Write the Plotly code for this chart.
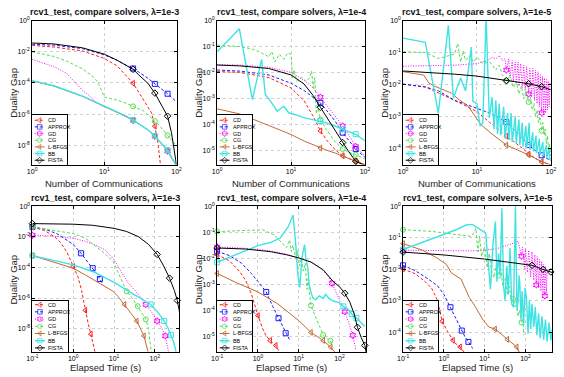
import plotly.graph_objects as go

FIG_W, FIG_H = 564, 377

# ---------------- text ----------------
SOLVERS = ["CD", "APPROX", "GD", "CG", "L-BFGS", "BB", "FISTA"]
PANEL_TITLES = ["rcv1_test, compare solvers, λ=1e-3",
                "rcv1_test, compare solvers, λ=1e-4",
                "rcv1_test, compare solvers, λ=1e-5"]
X_LABEL_COMM = "Number of Communications"
X_LABEL_TIME = "Elapsed Time (s)"
Y_LABEL = "Duality Gap"

# ---------------- tick labels ----------------
COMM_TICKS = [1, 10, 100]
COMM_TICKTEXT = ["10<sup>0</sup>", "10<sup>1</sup>", "10<sup>2</sup>"]
TIME_TICKS = [0.1, 1, 10, 100]
TIME_TICKTEXT = ["10<sup>-1</sup>", "10<sup>0</sup>", "10<sup>1</sup>", "10<sup>2</sup>"]
GAP_TICKS_1E3 = [1, 1e-2, 1e-4, 1e-6, 1e-8]
GAP_TICKTEXT_1E3 = ["10<sup>0</sup>", "10<sup>-2</sup>", "10<sup>-4</sup>", "10<sup>-6</sup>", "10<sup>-8</sup>"]
GAP_TICKS_1E4 = [1, 1e-1, 1e-2, 1e-3, 1e-4, 1e-5]
GAP_TICKTEXT_1E4 = ["10<sup>0</sup>", "10<sup>-1</sup>", "10<sup>-2</sup>", "10<sup>-3</sup>", "10<sup>-4</sup>", "10<sup>-5</sup>"]
GAP_TICKS_1E5 = [1, 1e-1, 1e-2, 1e-3, 1e-4]
GAP_TICKTEXT_1E5 = ["10<sup>0</sup>", "10<sup>-1</sup>", "10<sup>-2</sup>", "10<sup>-3</sup>", "10<sup>-4</sup>"]

# communications at which markers are drawn (top row)
MARK_COMM = [25, 50, 75]

# ================= λ=1e-3, duality gap vs communications =================
c3_cd_x = [1, 2, 5, 10, 15, 20, 25, 30, 35, 40, 45, 50, 55, 60]
c3_cd_y = [2.57e-2, 2.0e-2, 1.12e-2, 3.72e-3, 1.26e-3, 3.16e-4, 9.55e-5, 2.51e-5, 8.51e-6, 3.16e-6, 1.2e-6, 1.7e-7, 1.51e-8, 5.01e-10]
c3_approx_x = [1, 2, 5, 10, 15, 20, 25, 30, 40, 50, 60, 75, 100]
c3_approx_y = [3.02e-2, 2.63e-2, 1.58e-2, 6.31e-3, 2.82e-3, 1.41e-3, 8.51e-4, 5.01e-4, 2.0e-4, 8.71e-5, 4.47e-5, 2.04e-5, 6.03e-6]
c3_gd_x = [1, 2, 3, 4, 5, 6, 7, 8, 9, 10, 15, 20, 25, 30, 40, 50, 60, 75, 85, 100]
c3_gd_y = [3.24e-3, 1.1e-3, 4.17e-4, 9.55e-5, 3.31e-5, 1.74e-5, 8.51e-6, 5.01e-6, 3.55e-6, 3.02e-6, 1.35e-6, 6.76e-7, 3.98e-7, 2.4e-7, 9.55e-8, 3.8e-8, 1.51e-8, 4.27e-9, 1.51e-9, 5.01e-10]
c3_cg_x = [1, 2, 3, 5, 7, 8, 9, 10, 12, 15, 20, 25, 35, 50, 60, 75, 100]
c3_cg_y = [1.0e-2, 5.01e-3, 2.51e-3, 7.94e-4, 2.51e-4, 1.26e-4, 3.98e-5, 1.26e-5, 1.0e-5, 7.94e-6, 5.01e-6, 3.16e-6, 1.58e-6, 3.55e-7, 1.58e-7, 4.37e-8, 9.33e-9]
c3_lbfgs_x = [1, 2, 5, 10, 15, 20, 25, 30, 40, 50, 60, 75, 85, 100]
c3_lbfgs_y = [1.35e-4, 6.31e-5, 1.38e-5, 3.16e-6, 1.41e-6, 7.08e-7, 4.17e-7, 2.51e-7, 1.0e-7, 3.98e-8, 1.58e-8, 4.47e-9, 1.58e-9, 5.01e-10]
c3_bb_x = [1, 2, 5, 10, 15, 20, 25, 30, 40, 50, 60, 75, 85, 100]
c3_bb_y = [1.41e-4, 6.61e-5, 1.45e-5, 3.31e-6, 1.48e-6, 7.41e-7, 4.17e-7, 2.51e-7, 1.0e-7, 3.98e-8, 1.58e-8, 4.9e-9, 1.78e-9, 5.01e-10]
c3_fista_x = [1, 2, 5, 10, 15, 20, 25, 30, 40, 50, 60, 75, 85, 95, 100]
c3_fista_y = [3.63e-2, 3.16e-2, 1.78e-2, 6.92e-3, 2.88e-3, 1.41e-3, 7.41e-4, 3.24e-4, 9.55e-5, 2.24e-5, 5.13e-6, 7.41e-7, 6.46e-8, 3.47e-9, 5.01e-10]

# ================= λ=1e-4, duality gap vs communications =================
c4_cd_x = [1, 2, 5, 10, 15, 20, 25, 30, 40, 50, 60, 75, 100]
c4_cd_y = [1.07e-2, 1.0e-2, 6.31e-3, 2.51e-3, 7.94e-4, 2.0e-4, 5.5e-5, 2.51e-5, 1.0e-5, 6.03e-6, 4.79e-6, 3.72e-6, 2.75e-6]
c4_approx_x = [1, 2, 5, 10, 15, 20, 25, 30, 40, 50, 60, 75, 100]
c4_approx_y = [1.23e-2, 1.12e-2, 7.94e-3, 3.8e-3, 2.0e-3, 1.12e-3, 6.61e-4, 3.55e-4, 1.26e-4, 4.68e-5, 2.51e-5, 1.1e-5, 5.25e-6]
c4_gd_x = [1, 2, 5, 10, 15, 20, 25, 30, 40, 50, 60, 75, 100]
c4_gd_y = [2.0e-2, 1.91e-2, 1.58e-2, 1.0e-2, 5.01e-3, 2.51e-3, 1.1e-3, 5.62e-4, 2.0e-4, 8.51e-5, 3.98e-5, 1.38e-5, 5.75e-6]
c4_cg_x = [1, 2, 3, 4, 5, 5.5, 6, 7, 8, 9, 10, 10.5, 11, 12, 14, 16, 18, 19, 20, 21, 22, 23, 25, 30, 40, 50, 60, 75, 100]
c4_cg_y = [1.12e-1, 1.0e-1, 7.94e-2, 5.62e-2, 3.98e-2, 6.31e-2, 2.51e-2, 5.01e-2, 3.16e-2, 5.62e-2,
           5.01e-2, 6.31e-3, 1.26e-2, 4.47e-3, 6.31e-3, 4.47e-3, 6.31e-3, 1.12e-2, 2.51e-3, 6.31e-3,
           2.51e-4, 5.01e-4, 1.51e-4, 6.31e-5, 2.0e-5, 1.1e-5, 8.32e-6, 6.61e-6, 4.57e-6]
c4_lbfgs_x = [1, 2, 5, 10, 15, 20, 25, 30, 40, 50, 60, 75, 100]
c4_lbfgs_y = [3.89e-4, 2.51e-4, 8.91e-5, 3.98e-5, 2.24e-5, 1.58e-5, 1.2e-5, 1.0e-5, 7.59e-6, 6.03e-6, 5.01e-6, 3.72e-6, 2.75e-6]
c4_bb_x = [1, 2, 3, 4, 4.5, 5.3, 6.5, 8, 9.3, 10, 12, 15, 20, 25, 30, 40, 50, 60, 75, 100]
c4_bb_y = [6.17e-2, 4.79e-1, 8.91e-4, 3.16e-2, 1.38e-3, 7.59e-4, 3.16e-4, 4.9e-4, 2.75e-4, 2.63e-4,
           2.24e-4, 1.78e-4, 1.51e-4, 1.32e-4, 1.12e-4, 8.32e-5, 6.61e-5, 5.37e-5, 4.07e-5, 2.29e-5]
c4_fista_x = [1, 2, 5, 10, 15, 20, 25, 30, 40, 50, 60, 75, 100]
c4_fista_y = [1.91e-2, 1.78e-2, 1.41e-2, 7.94e-3, 3.55e-3, 1.26e-3, 4.47e-4, 2.0e-4, 5.01e-5, 1.95e-5, 8.91e-6, 3.72e-6, 2.51e-6]

# ================= λ=1e-5, duality gap vs communications =================
c5_cd_x = [1, 2, 5, 10, 15, 20, 25, 30, 40, 50, 60, 75, 100]
c5_cd_y = [1.02e-2, 8.32e-3, 3.16e-3, 1.41e-3, 6.31e-4, 3.55e-4, 2.4e-4, 1.78e-4, 1.05e-4, 6.61e-5, 5.01e-5, 3.8e-5, 3.02e-5]
c5_approx_x = [1, 2, 3, 5, 7, 10, 15, 20, 25, 30, 40, 50, 60, 75, 100]
c5_approx_y = [1.02e-2, 8.32e-3, 6.31e-3, 3.16e-3, 2.4e-3, 1.78e-3, 1.26e-3, 8.91e-4, 6.61e-4, 4.47e-4, 2.24e-4, 1.26e-4, 8.91e-5, 6.03e-5, 4.07e-5]
c5_gd_x = [1, 5, 10, 14, 16, 18, 20, 22, 24, 25, 27, 28, 30, 31, 33, 34, 36, 37, 39, 41,
           43, 45, 47, 50, 52, 55, 57, 60, 62, 65, 67, 70, 72, 75, 77, 80, 82, 85, 87, 90,
           92, 95, 97, 100]
c5_gd_y = [3.72e-2, 3.98e-2, 4.47e-2, 5.62e-2, 7.08e-2, 6.31e-2, 7.94e-2, 5.62e-2, 6.31e-2, 2.82e-2,
           6.31e-2, 1.58e-2, 5.62e-2, 1.26e-2, 5.01e-2, 1.0e-2, 5.01e-2, 8.91e-3, 4.47e-2, 7.94e-3,
           3.98e-2, 6.31e-3, 3.55e-2, 5.01e-3, 3.16e-2, 3.98e-3, 3.16e-2, 3.16e-3, 2.82e-2, 2.51e-3,
           2.51e-2, 2.0e-3, 2.0e-2, 1.29e-3, 1.78e-2, 1.26e-3, 1.58e-2, 1.26e-3, 1.41e-2, 1.58e-3,
           1.26e-2, 2.0e-3, 1.12e-2, 1.0e-2]
c5_cg_x = [1, 2, 3, 4, 5, 5.5, 6, 6.5, 7, 8, 9, 10, 12, 15, 18, 20, 22, 25, 28, 31,
           34, 37, 40, 43, 46, 50, 53, 56, 59, 62, 65, 68, 71, 75, 78, 81, 84, 87, 90, 93,
           96, 100]
c5_cg_y = [1.05e-1, 1.0e-1, 6.46e-2, 7.94e-2, 8.91e-2, 1.91e-1, 5.01e-2, 1.12e-1, 5.62e-2, 7.94e-2,
           5.01e-2, 7.08e-2, 4.47e-2, 5.01e-2, 2.82e-2, 3.98e-2, 2.0e-2, 1.26e-2, 2.0e-2, 7.94e-3,
           1.26e-2, 5.01e-3, 8.91e-3, 3.55e-3, 6.31e-3, 2.82e-3, 3.98e-3, 1.58e-3, 2.51e-3, 1.0e-3,
           1.58e-3, 6.31e-4, 1.0e-3, 3.55e-4, 6.31e-4, 2.51e-4, 3.98e-4, 1.41e-4, 2.51e-4, 8.91e-5,
           1.41e-4, 5.62e-5]
c5_lbfgs_x = [1, 1.9, 2.24, 2.7, 4.5, 5.8, 7.6, 9.7, 11.3, 15, 20, 25, 30, 40, 50, 60, 75, 100]
c5_lbfgs_y = [2.51e-2, 1.95e-2, 1.1e-2, 8.71e-3, 5.37e-3, 3.24e-3, 2.09e-3, 8.91e-4, 5.5e-4, 3.16e-4,
              1.91e-4, 1.26e-4, 1.05e-4, 7.94e-5, 6.17e-5, 5.01e-5, 3.8e-5, 3.02e-5]
c5_bb_x = [1, 2, 3, 4.1, 4.8, 6, 7, 8.4, 8.8, 10, 11, 12, 13.3, 14.7, 16, 17, 18, 19, 20, 21,
           23, 24, 26, 27, 29, 30, 33, 34, 37, 38, 41, 42, 46, 47, 51, 52, 57, 58, 63, 64,
           70, 71, 78, 79, 87, 88, 95, 96, 100]
c5_bb_y = [2.82e-1, 2.09e-1, 1.26e-3, 7.08e-1, 3.72e-3, 1.58e-2, 6.31e-3, 1.48e-1, 2.95e-3, 2.51e-3,
           5.01e-4, 6.31e-4, 1.26, 8.91e-4, 3.98e-3, 3.98e-4, 3.16e-3, 2.82e-4, 2.51e-3, 2.51e-4,
           2.0e-3, 2.0e-4, 1.26e-3, 1.78e-4, 1.26e-3, 1.58e-4, 1.0e-3, 1.41e-4, 7.94e-4, 1.26e-4,
           6.31e-4, 1.12e-4, 5.01e-4, 1.0e-4, 6.31e-4, 8.91e-5, 3.16e-4, 7.94e-5, 2.51e-4, 7.08e-5,
           2.0e-4, 6.31e-5, 1.58e-4, 5.62e-5, 1.26e-4, 5.01e-5, 1.0e-4, 4.47e-5, 5.01e-5]
c5_fista_x = [1, 2, 5, 10, 25, 50, 75, 100]
c5_fista_y = [2.63e-2, 2.4e-2, 2.09e-2, 1.82e-2, 1.32e-2, 1.05e-2, 8.51e-3, 6.76e-3]

# ================= λ=1e-3, duality gap vs elapsed time (s) =================
t3_cd_x = [0.1, 0.2, 0.35, 0.5, 0.7, 1.0, 1.3, 1.6, 1.97, 2.3, 2.7, 3.4]
t3_cd_y = [4.37e-2, 2.51e-2, 1.0e-2, 3.98e-3, 1.0e-3, 1.15e-4, 2.51e-5, 3.16e-6, 1.58e-7, 2.51e-8, 4.37e-9, 3.16e-10]
t3_cd_marks = [0.1, 1.0, 1.97, 2.7]
t3_approx_x = [0.1, 0.2, 0.4, 0.7, 1.0, 1.56, 2.2, 3.0, 3.7, 4.5, 5.4]
t3_approx_y = [4.37e-2, 3.16e-2, 1.58e-2, 6.31e-3, 3.16e-3, 8.32e-4, 2.51e-4, 8.91e-5, 3.98e-5, 1.74e-5, 7.41e-6]
t3_approx_marks = [0.1, 1.56, 3.0, 4.5]
t3_gd_x = [0.1, 0.3, 1, 2, 3.5, 6, 10, 15, 22, 30, 45, 60, 85, 114, 150, 180, 215]
t3_gd_y = [1.26e-2, 1.12e-2, 7.94e-3, 5.01e-3, 2.82e-3, 1.41e-3, 3.16e-4, 5.01e-5, 1.0e-5, 3.98e-6, 1.12e-6, 3.8e-7, 1.12e-7, 3.16e-8, 1.0e-8, 3.39e-9, 3.16e-10]
t3_gd_marks = [0.1, 60, 114, 180]
t3_cg_x = [0.1, 0.3, 1, 2, 3.7, 6, 9.5, 14, 20.4, 28, 38, 48, 60, 70, 82]
t3_cg_y = [4.37e-2, 2.82e-2, 1.62e-2, 7.94e-3, 2.24e-3, 7.94e-4, 2.4e-4, 2.51e-5, 2.75e-6, 1.0e-6, 2.95e-7, 1.12e-7, 4.07e-8, 1.0e-8, 2.51e-10]
t3_cg_marks = [0.1, 20.4, 38, 60]
t3_lbfgs_x = [0.1, 0.3, 1, 2, 3.7, 6, 9.5, 13, 18, 26, 36, 45, 54, 68]
t3_lbfgs_y = [5.89e-4, 2.51e-4, 8.91e-5, 3.16e-5, 1.23e-5, 5.62e-6, 2.75e-6, 1.12e-6, 3.8e-7, 1.0e-7, 3.16e-8, 1.0e-8, 3.39e-9, 3.16e-10]
t3_lbfgs_marks = [0.1, 18, 36, 54]
t3_bb_x = [0.1, 0.3, 1, 3.2, 9.5, 28, 50, 79, 120, 170, 210, 250, 290, 330]
t3_bb_y = [5.89e-4, 3.16e-4, 1.45e-4, 5.01e-5, 1.12e-5, 2.0e-6, 7.94e-7, 3.8e-7, 1.12e-7, 3.16e-8, 1.12e-8, 3.98e-9, 1.26e-9, 3.16e-10]
t3_bb_marks = [0.1, 79, 170, 250]
t3_fista_x = [0.1, 0.3, 1, 3, 10, 20, 40, 70, 114, 160, 229, 300, 355, 420, 480]
t3_fista_y = [7.24e-2, 7.08e-2, 6.61e-2, 5.62e-2, 3.55e-2, 2.24e-2, 1.0e-2, 3.16e-3, 7.08e-4, 1.41e-4, 2.0e-5, 3.16e-6, 6.92e-7, 6.31e-8, 3.16e-9]
t3_fista_marks = [0.1, 114, 229, 355]

# ================= λ=1e-4, duality gap vs elapsed time (s) =================
t4_cd_x = [0.1, 0.2, 0.35, 0.5, 0.7, 1.0, 1.3, 1.6, 2.0, 2.75, 3.5]
t4_cd_y = [1.35e-2, 7.94e-3, 3.16e-3, 1.41e-3, 3.98e-4, 6.17e-5, 2.0e-5, 1.0e-5, 6.76e-6, 4.37e-6, 2.24e-6]
t4_cd_marks = [0.1, 1.0, 2.0, 2.75]
t4_approx_x = [0.1, 0.2, 0.4, 0.7, 1.0, 1.6, 2.3, 3.2, 4.0, 4.8, 6.1]
t4_approx_y = [1.82e-2, 1.26e-2, 6.31e-3, 2.51e-3, 1.26e-3, 5.01e-4, 1.41e-4, 4.9e-5, 2.51e-5, 1.29e-5, 6.76e-6]
t4_approx_marks = [0.1, 1.6, 3.2, 4.8]
t4_gd_x = [0.1, 0.5, 2, 5, 10, 20, 35, 50, 66, 90, 135, 170, 212, 250]
t4_gd_y = [2.69e-2, 2.4e-2, 1.91e-2, 1.41e-2, 1.02e-2, 7.08e-3, 3.98e-3, 2.24e-3, 1.07e-3, 3.55e-4, 8.71e-5, 3.16e-5, 1.07e-5, 3.16e-6]
t4_gd_marks = [0.1, 66, 135, 212]
t4_cg_x = [0.1, 0.5, 1.3, 2.5, 3.5, 5, 6, 6.6, 7.2, 8, 8.9, 9.5, 10.5, 11.5, 13, 14.5, 16, 17, 20, 25, 32, 40, 50, 60, 68]
t4_cg_y = [1.05e-1, 1.17e-1, 1.23e-1, 7.94e-2, 4.47e-2, 2.51e-2, 5.01e-2, 1.78e-2, 3.16e-2, 1.58e-2,
           7.59e-3, 2.0e-2, 5.01e-3, 1.0e-2, 3.16e-3, 6.31e-3, 6.31e-4, 1.58e-3, 1.51e-4, 6.31e-5,
           2.51e-5, 1.1e-5, 7.94e-6, 6.61e-6, 3.98e-6]
t4_cg_marks = [0.1, 20, 40, 60]
t4_lbfgs_x = [0.1, 0.3, 1, 3, 10, 20, 40, 61, 80]
t4_lbfgs_y = [2.57e-3, 1.12e-3, 5.01e-4, 1.78e-4, 3.98e-5, 1.38e-5, 6.76e-6, 3.8e-6, 2.24e-6]
t4_lbfgs_marks = [0.1, 20, 40, 61]
t4_bb_x = [0.1, 0.3, 1, 2, 3.5, 5.5, 7.3, 8.5, 9.5, 10.6, 12, 13.9, 15, 16.7, 18, 20, 22, 26, 32, 40,
           46, 55, 70, 96, 125, 160, 200, 260, 330, 420]
t4_bb_y = [6.92e-3, 1.41e-2, 3.02e-2, 3.98e-2, 5.89e-2, 1.58e-1, 4.57e-1, 3.16e-2, 2.51e-3, 7.41e-4,
           1.0e-2, 3.31e-2, 1.0e-2, 4.27e-3, 1.0e-3, 5.01e-4, 3.02e-4, 2.51e-4, 3.55e-4, 2.82e-4,
           4.07e-4, 2.82e-4, 2.24e-4, 1.95e-4, 1.38e-4, 1.12e-4, 7.08e-5, 5.01e-5, 3.55e-5, 2.34e-5]
t4_bb_marks = [0.1, 125, 200, 260]
t4_fista_x = [0.1, 0.5, 2, 5, 10, 20, 40, 70, 100, 135, 180, 230, 276, 340, 420, 460]
t4_fista_y = [2.45e-2, 2.24e-2, 1.78e-2, 1.35e-2, 1.02e-2, 7.08e-3, 3.55e-3, 1.26e-3, 7.94e-4, 4.47e-4, 2.0e-4, 7.08e-5, 2.19e-5, 8.91e-6, 4.37e-6, 2.0e-6]
t4_fista_marks = [0.1, 135, 276, 420]

# ================= λ=1e-5, duality gap vs elapsed time (s) =================
t5_cd_x = [0.1, 0.2, 0.35, 0.5, 0.7, 0.91, 1.2, 1.67, 2.0, 2.5, 3.2]
t5_cd_y = [1.02e-2, 7.08e-3, 3.98e-3, 2.51e-3, 1.0e-3, 2.19e-4, 1.12e-4, 5.5e-5, 4.17e-5, 3.39e-5, 2.24e-5]
t5_cd_marks = [0.1, 0.91, 1.67, 2.5]
t5_approx_x = [0.1, 0.2, 0.4, 0.7, 1.0, 1.45, 2.0, 2.75, 3.3, 4.0, 5.1]
t5_approx_y = [1.32e-2, 8.91e-3, 5.01e-3, 2.95e-3, 1.58e-3, 6.17e-4, 2.82e-4, 1.12e-4, 7.08e-5, 4.9e-5, 3.02e-5]
t5_approx_marks = [0.1, 1.45, 2.75, 4.0]
t5_gd_x = [0.1, 0.5, 2, 5, 10, 20, 35, 50, 66, 80, 85, 95, 100, 112, 120, 135, 145, 160, 170, 185,
           195, 210, 222, 240, 250, 270, 280, 300, 310, 330, 340]
t5_gd_y = [3.98e-2, 3.89e-2, 3.8e-2, 3.8e-2, 3.98e-2, 4.47e-2, 5.62e-2, 6.76e-2, 7.59e-2, 2.57e-2,
           5.01e-2, 1.0e-2, 4.47e-2, 7.94e-3, 3.98e-2, 5.62e-3, 3.55e-2, 4.47e-3, 2.82e-2, 3.16e-3,
           2.51e-2, 2.51e-3, 2.0e-2, 2.0e-3, 1.78e-2, 1.58e-3, 1.41e-2, 1.41e-3, 1.26e-2, 1.78e-3,
           1.0e-2]
t5_gd_marks = [0.1, 80, 185, 300]
t5_cg_x = [0.1, 0.5, 1.5, 3, 4.6, 5.5, 6.1, 6.8, 7.5, 8.5, 10, 11.6, 13, 14.5, 16.7, 19, 22, 25, 28, 32,
           36, 40, 45, 50, 55, 60, 66, 72, 80, 86, 92]
t5_cg_y = [1.78e-1, 1.58e-1, 1.32e-1, 1.17e-1, 1.1e-1, 1.41e-1, 2.0e-1, 3.55e-2, 1.12e-1, 2.51e-2,
           5.01e-2, 1.1e-2, 3.16e-2, 1.0e-2, 5.37e-3, 1.26e-2, 6.31e-3, 1.0e-2, 2.82e-3, 5.01e-3,
           1.58e-3, 2.82e-3, 1.0e-3, 1.12e-3, 6.31e-4, 1.0e-3, 3.16e-4, 5.01e-4, 2.04e-4, 2.51e-4,
           7.94e-5]
t5_cg_marks = [0.1, 22, 50, 80]
t5_lbfgs_x = [0.1, 0.3, 0.67, 1.16, 1.53, 2.65, 4.2, 6.1, 8.8, 12.7, 18, 25, 36, 48, 61, 72]
t5_lbfgs_y = [6.46e-2, 3.98e-2, 2.29e-2, 1.41e-2, 7.59e-3, 4.79e-3, 1.26e-3, 6.03e-4, 2.63e-4, 1.45e-4,
              1.26e-4, 8.91e-5, 5.89e-5, 4.47e-5, 3.39e-5, 2.24e-5]
t5_lbfgs_marks = [0.1, 18, 36, 61]
t5_bb_x = [0.1, 0.67, 2, 3.5, 5, 10.6, 13.9, 16, 18.4, 20, 22, 24, 26.5, 29, 31.6, 35, 38, 42, 46, 51,
           57, 62, 66, 70, 73, 78, 83, 90, 98, 106, 116, 125, 135, 145, 160, 175, 190, 210, 230, 255,
           280, 310, 340, 380, 420, 460]
t5_bb_y = [4.17e-2, 1.07e-1, 1.78e-1, 2.51e-1, 2.63e-1, 1.38e-1, 2.29e-3, 6.31e-2, 3.24e-1, 3.98e-3,
           3.16e-2, 6.31e-3, 8.51e-1, 3.16e-3, 1.0e-3, 1.26e-2, 1.58e-3, 4.68e-2, 7.94e-4, 6.17e-4,
           1.05, 5.01e-4, 1.0e-3, 6.31e-3, 3.31e-3, 2.51e-4, 2.0e-3, 1.58e-4, 2.51e-3, 1.26e-3,
           8.91e-5, 1.0e-3, 1.26e-4, 7.94e-4, 1.45e-4, 6.31e-4, 7.94e-5, 3.98e-4, 6.31e-5, 3.16e-4,
           5.62e-5, 2.51e-4, 5.01e-5, 2.0e-4, 5.5e-5, 1.26e-4]
t5_bb_marks = [0.1]
t5_fista_x = [0.1, 1, 10, 50, 145, 270, 420, 460]
t5_fista_y = [3.47e-2, 2.82e-2, 2.09e-2, 1.58e-2, 1.32e-2, 9.77e-3, 8.13e-3, 7.76e-3]
t5_fista_marks = [0.1, 145, 270, 420]

# ---------------- styles ----------------
STYLE = {
    "CD":     dict(color="#ff1a1a", dash="3px,2px", width=1.0, symbol="triangle-left-open"),
    "APPROX": dict(color="#1a1aff", dash="3px,2px", width=1.0, symbol="square-open"),
    "GD":     dict(color="#ff00ff", dash="1px,1.5px", width=1.0, symbol="hexagram-open"),
    "CG":     dict(color="#55dd55", dash="3px,2px", width=1.0, symbol="circle-open"),
    "L-BFGS": dict(color="#c26a35", dash="solid", width=1.0, symbol="triangle-left-open"),
    "BB":     dict(color="#3fe3e3", dash="solid", width=1.4, symbol="square-open"),
    "FISTA":  dict(color="#000000", dash="solid", width=1.0, symbol="diamond-open"),
}
FONT = "Liberation Sans, Arial, sans-serif"

# panel geometry in pixels: (left, right, top, bottom)
PANEL_PX = [
    (26.7, 174.3, 16.7, 162.3), (215.7, 366.7, 16.7, 162.3), (405.7, 556.7, 16.7, 162.3),
    (27.0, 176.7, 204.3, 351.7), (215.7, 368.0, 204.3, 351.7), (405.7, 558.0, 204.3, 351.7),
]
X_RANGES = [[0, 2], [0, 2], [0, 2], [-1, 2.59], [-1, 2.655], [-1, 2.655]]
Y_RANGES = [[-9.23, 0], [-5.56, 0], [-4.51, 0], [-9.52, 0], [-5.61, 0], [-4.63, 0]]

PANELS = [
    dict(kind="comm", yt=(GAP_TICKS_1E3, GAP_TICKTEXT_1E3), series={
        "CD": (c3_cd_x, c3_cd_y, MARK_COMM), "APPROX": (c3_approx_x, c3_approx_y, MARK_COMM),
        "GD": (c3_gd_x, c3_gd_y, MARK_COMM), "CG": (c3_cg_x, c3_cg_y, MARK_COMM),
        "L-BFGS": (c3_lbfgs_x, c3_lbfgs_y, MARK_COMM), "BB": (c3_bb_x, c3_bb_y, MARK_COMM),
        "FISTA": (c3_fista_x, c3_fista_y, MARK_COMM)}),
    dict(kind="comm", yt=(GAP_TICKS_1E4, GAP_TICKTEXT_1E4), series={
        "CD": (c4_cd_x, c4_cd_y, MARK_COMM), "APPROX": (c4_approx_x, c4_approx_y, MARK_COMM),
        "GD": (c4_gd_x, c4_gd_y, MARK_COMM), "CG": (c4_cg_x, c4_cg_y, MARK_COMM),
        "L-BFGS": (c4_lbfgs_x, c4_lbfgs_y, MARK_COMM), "BB": (c4_bb_x, c4_bb_y, MARK_COMM),
        "FISTA": (c4_fista_x, c4_fista_y, MARK_COMM)}),
    dict(kind="comm", yt=(GAP_TICKS_1E5, GAP_TICKTEXT_1E5), series={
        "CD": (c5_cd_x, c5_cd_y, MARK_COMM), "APPROX": (c5_approx_x, c5_approx_y, MARK_COMM),
        "GD": (c5_gd_x, c5_gd_y, MARK_COMM), "CG": (c5_cg_x, c5_cg_y, MARK_COMM),
        "L-BFGS": (c5_lbfgs_x, c5_lbfgs_y, MARK_COMM), "BB": (c5_bb_x, c5_bb_y, MARK_COMM),
        "FISTA": (c5_fista_x, c5_fista_y, MARK_COMM)}),
    dict(kind="time", yt=(GAP_TICKS_1E3, GAP_TICKTEXT_1E3), series={
        "CD": (t3_cd_x, t3_cd_y, t3_cd_marks), "APPROX": (t3_approx_x, t3_approx_y, t3_approx_marks),
        "GD": (t3_gd_x, t3_gd_y, t3_gd_marks), "CG": (t3_cg_x, t3_cg_y, t3_cg_marks),
        "L-BFGS": (t3_lbfgs_x, t3_lbfgs_y, t3_lbfgs_marks), "BB": (t3_bb_x, t3_bb_y, t3_bb_marks),
        "FISTA": (t3_fista_x, t3_fista_y, t3_fista_marks)}),
    dict(kind="time", yt=(GAP_TICKS_1E4, GAP_TICKTEXT_1E4), series={
        "CD": (t4_cd_x, t4_cd_y, t4_cd_marks), "APPROX": (t4_approx_x, t4_approx_y, t4_approx_marks),
        "GD": (t4_gd_x, t4_gd_y, t4_gd_marks), "CG": (t4_cg_x, t4_cg_y, t4_cg_marks),
        "L-BFGS": (t4_lbfgs_x, t4_lbfgs_y, t4_lbfgs_marks), "BB": (t4_bb_x, t4_bb_y, t4_bb_marks),
        "FISTA": (t4_fista_x, t4_fista_y, t4_fista_marks)}),
    dict(kind="time", yt=(GAP_TICKS_1E5, GAP_TICKTEXT_1E5), series={
        "CD": (t5_cd_x, t5_cd_y, t5_cd_marks), "APPROX": (t5_approx_x, t5_approx_y, t5_approx_marks),
        "GD": (t5_gd_x, t5_gd_y, t5_gd_marks), "CG": (t5_cg_x, t5_cg_y, t5_cg_marks),
        "L-BFGS": (t5_lbfgs_x, t5_lbfgs_y, t5_lbfgs_marks), "BB": (t5_bb_x, t5_bb_y, t5_bb_marks),
        "FISTA": (t5_fista_x, t5_fista_y, t5_fista_marks)}),
]


def px_x(p):
    return p / FIG_W


def px_y(p):
    return 1 - p / FIG_H


def ax_name(kind, i):
    return (kind if i == 1 else f"{kind}{i}")


fig = go.Figure()
layout = dict(width=FIG_W, height=FIG_H, margin=dict(l=0, r=0, t=0, b=0),
              paper_bgcolor="white", plot_bgcolor="white", showlegend=False,
              font=dict(family=FONT, color="black"))
annotations = []

LEG_W = 36.0
LEG_H = [50.6, 50.6, 50.6, 51.7, 51.7, 51.7]

for pi, panel in enumerate(PANELS):
    idx = pi + 1
    L, R, T, B = PANEL_PX[pi]
    xa, ya = ax_name("x", idx), ax_name("y", idx)
    is_comm = panel["kind"] == "comm"
    common = dict(type="log", showline=True, linecolor="black", linewidth=1, mirror="ticks",
                  ticks="inside", ticklen=3, tickwidth=0.8, tickcolor="black",
                  showgrid=True, gridcolor="#cfcfcf", griddash="dot", gridwidth=0.7,
                  zeroline=False, tickfont=dict(size=7, color="black", family=FONT), fixedrange=True)
    layout[ax_name("xaxis", idx)] = dict(common, domain=[px_x(L), px_x(R)], anchor=ya, range=X_RANGES[pi],
                                         tickvals=COMM_TICKS if is_comm else TIME_TICKS,
                                         ticktext=COMM_TICKTEXT if is_comm else TIME_TICKTEXT)
    layout[ax_name("yaxis", idx)] = dict(common, domain=[px_y(B), px_y(T)], anchor=xa, range=Y_RANGES[pi],
                                         tickvals=panel["yt"][0], ticktext=panel["yt"][1])

    for name in SOLVERS:
        xs, ys, marks = panel["series"][name]
        st = STYLE[name]
        fig.add_trace(go.Scatter(x=xs, y=ys, mode="lines", xaxis=xa, yaxis=ya, hoverinfo="skip",
                                 line=dict(color=st["color"], width=st["width"], dash=st["dash"])))
        lookup = dict(zip(xs, ys))
        mx = [m for m in marks if m in lookup]
        if mx:
            fig.add_trace(go.Scatter(x=mx, y=[lookup[m] for m in mx], mode="markers", xaxis=xa, yaxis=ya,
                                     hoverinfo="skip", cliponaxis=False,
                                     marker=dict(symbol=st["symbol"], size=5, color=st["color"],
                                                 line=dict(width=1, color=st["color"]))))

    # titles and axis labels
    cx = (L + R) / 2
    annotations.append(dict(text=f"<b>{PANEL_TITLES[pi % 3]}</b>", x=px_x(cx), y=px_y(T - 8.3),
                            xref="paper", yref="paper", showarrow=False, xanchor="center", yanchor="middle",
                            font=dict(size=9, family=FONT, color="#111111")))
    annotations.append(dict(text=X_LABEL_COMM if is_comm else X_LABEL_TIME, x=px_x(cx),
                            y=px_y(B + (19.2 if is_comm else 15.8)), xref="paper", yref="paper",
                            showarrow=False, xanchor="center", yanchor="middle",
                            font=dict(size=9.5, family=FONT, color="#222222")))
    annotations.append(dict(text=Y_LABEL, x=px_x(L - 19.4), y=px_y((T + B) / 2), xref="paper", yref="paper",
                            showarrow=False, xanchor="center", yanchor="middle", textangle=-90,
                            font=dict(size=9.5, family=FONT, color="#222222")))

    # legend box (an overlaid subplot whose background hides the curves below it)
    li = idx + 6
    lxa, lya = ax_name("x", li), ax_name("y", li)
    leg_common = dict(range=[0, 1], showline=True, linecolor="black", linewidth=1, mirror=True,
                      ticks="", showticklabels=False, showgrid=False, zeroline=False, fixedrange=True)
    layout[ax_name("xaxis", li)] = dict(leg_common, domain=[px_x(L), px_x(L + LEG_W)], anchor=lya)
    layout[ax_name("yaxis", li)] = dict(leg_common, domain=[px_y(B), px_y(B - LEG_H[pi])], anchor=lxa)
    y_first, y_last = (0.886, 0.087) if is_comm else (0.925, 0.08)
    for k, name in enumerate(SOLVERS):
        st = STYLE[name]
        yk = y_first - k * (y_first - y_last) / (len(SOLVERS) - 1)
        fig.add_trace(go.Scatter(x=[0.073, 0.213, 0.354], y=[yk, yk, yk], mode="lines+markers",
                                 xaxis=lxa, yaxis=lya, hoverinfo="skip", cliponaxis=False,
                                 line=dict(color=st["color"], width=st["width"], dash=st["dash"]),
                                 marker=dict(symbol=st["symbol"], size=[0, 4.5, 0], color=st["color"],
                                             line=dict(width=1, color=st["color"]))))
        annotations.append(dict(text=name, x=0.393, y=yk, xref=lxa, yref=lya, showarrow=False,
                                xanchor="left", yanchor="middle",
                                font=dict(size=5.4, family=FONT, color="black")))

layout["annotations"] = annotations
fig.update_layout(**layout)
fig.write_html("out.html")
